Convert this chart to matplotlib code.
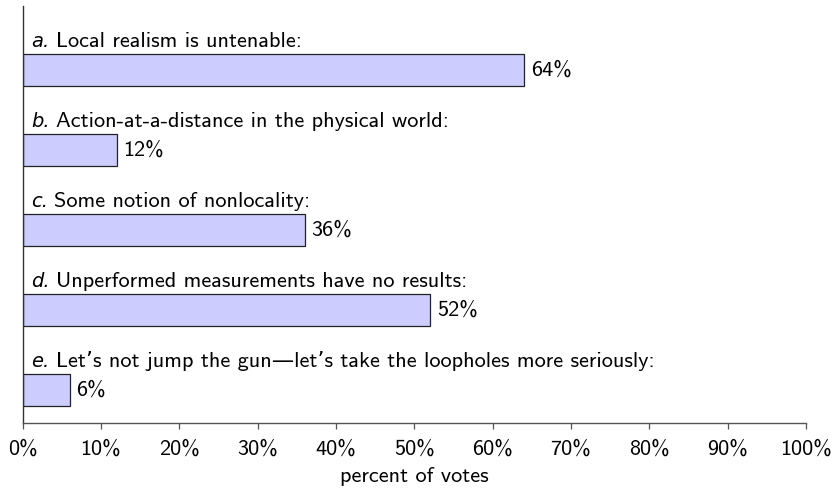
import matplotlib
matplotlib.use("Agg")
import matplotlib.pyplot as plt

# -------------------------------------------------
# Data
# -------------------------------------------------
letters = ["a.", "b.", "c.", "d.", "e."]
answers = [
    "Local realism is untenable:",
    "Action-at-a-distance in the physical world:",
    "Some notion of nonlocality:",
    "Unperformed measurements have no results:",
    "Let\u2019s not jump the gun\u2014let\u2019s take the loopholes more seriously:",
]
votes = [64, 12, 36, 52, 6]
xticks = [0, 10, 20, 30, 40, 50, 60, 70, 80, 90, 100]

FONT = ["cmss10", "DejaVu Sans"]
FS = 16

plt.rcParams["font.family"] = FONT
plt.rcParams["axes.unicode_minus"] = False

fig = plt.figure(figsize=(8.32, 4.9), dpi=100)
ax = fig.add_axes([22.5 / 832, 1 - 423 / 490, (806 - 22.5) / 832, (423 - 6) / 490])

n = len(votes)
ypos = [n - 1 - i for i in range(n)]  # a at top

ax.barh(ypos, votes, height=0.4, color="#ccccff", edgecolor="#222222",
        linewidth=0.9, zorder=2)

for y, letter, text, v in zip(ypos, letters, answers, votes):
    t = ax.text(1.1, y + 0.2875, letter, fontsize=14, va="baseline",
                family=["DejaVu Sans"], style="italic")
    ax.annotate(text, xy=(1.0, y + 0.2875), xycoords=(t, "data"),
                xytext=(4.5, 0), textcoords="offset points",
                fontsize=FS, va="baseline", family=FONT)
    ax.annotate(f"{v}%", xy=(v, y), xytext=(5, 0),
                textcoords="offset points", fontsize=FS, va="center",
                family=FONT)

ax.set_xlim(0, 100)
ax.set_ylim(-0.4125, 4.8)
ax.set_xticks(xticks)
ax.set_xticklabels([f"{x}%" for x in xticks], fontsize=FS, family=FONT)
ax.set_yticks([])
ax.tick_params(axis="x", direction="out", length=4.3, width=0.9,
               color="#555555", pad=8)
ax.set_xlabel("percent of votes", fontsize=FS, family=FONT, labelpad=6)

ax.spines["top"].set_visible(False)
ax.spines["right"].set_visible(False)
ax.spines["left"].set_color("#333333")
ax.spines["left"].set_linewidth(1.0)
ax.spines["bottom"].set_color("#555555")
ax.spines["bottom"].set_linewidth(1.0)

fig.savefig("out.png", dpi=100)
